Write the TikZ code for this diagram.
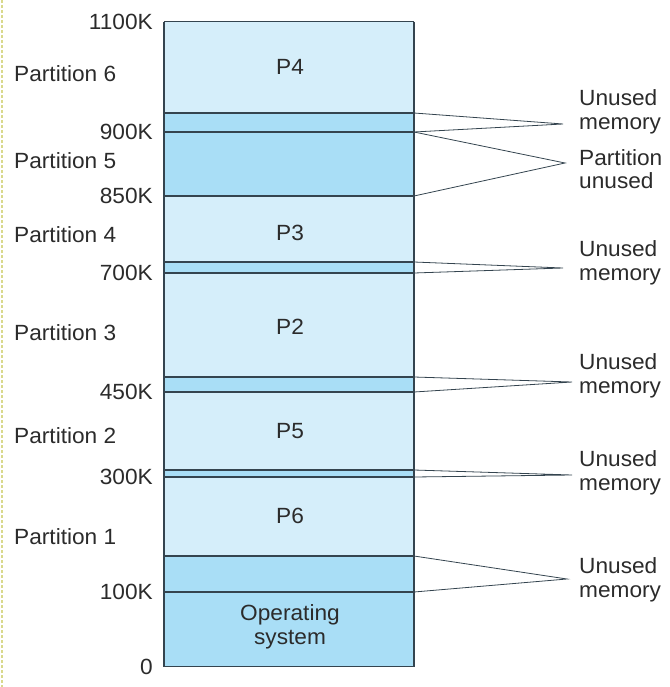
\documentclass[tikz,border=0pt]{standalone}
\usepackage{fontspec}
\setmainfont{Liberation Sans}[FakeStretch=1.03]
\usetikzlibrary{positioning}
\definecolor{freeblue}{HTML}{A9DEF6}
\definecolor{usedblue}{HTML}{D5EEFA}
\definecolor{edgegray}{HTML}{34444F}
\definecolor{textgray}{HTML}{2B2B2B}
\definecolor{dotyellow}{HTML}{D9D98C}

\begin{document}
\begin{tikzpicture}[x=1pt, y=-1pt, font=\fontsize{22}{23.5}\selectfont, text=textgray,
	used/.style={fill=usedblue}, free/.style={fill=freeblue},
	bound/.style={draw=edgegray, line width=1.2pt},
	val/.style={inner sep=0pt}, part/.style={inner sep=0pt, anchor=west},
	note/.style={inner sep=0pt, anchor=west, align=left},
	proc/.style={inner sep=0pt, align=center},
	lead/.style={draw=edgegray, line width=0.8pt, line join=miter}]
	\useasboundingbox (0,0) rectangle (669,687);
	\draw[dotyellow, line width=1.8pt, dash pattern=on 3pt off 2pt] (2,0) -- (2,687);
	% memory bands
	\fill[used] (164,21.7) rectangle (414,113);
	\fill[free] (164,113) rectangle (414,196);
	\fill[used] (164,196) rectangle (414,262);
	\fill[free] (164,262) rectangle (414,273);
	\fill[used] (164,273) rectangle (414,377);
	\fill[free] (164,377) rectangle (414,392);
	\fill[used] (164,392) rectangle (414,470);
	\fill[free] (164,470) rectangle (414,477);
	\fill[used] (164,477) rectangle (414,556);
	\fill[free] (164,556) rectangle (414,666.7);
	% boundaries
	\foreach \n/\y in {k1100/21.7, top6/113, k900/132, k850/196, top4/262, k700/273, top3/377, k450/392, top2/470, k300/477, top1/556, k100/592, k0/666.7} {
		\coordinate (L\n) at (164,\y);
		\coordinate (R\n) at (414,\y);
		\draw[bound] (L\n) -- (R\n);
	}
	\draw[bound] (Lk1100) -- (Lk0) (Rk1100) -- (Rk0);
	% addresses
	\node[val, left=11pt of Lk1100] (v1100) {1100K};
	\node[val, left=11pt of Lk900] (v900) {900K};
	\node[val, left=11pt of Lk850] (v850) {850K};
	\node[val, left=11pt of Lk700] (v700) {700K};
	\node[val, left=11pt of Lk450] (v450) {450K};
	\node[val, left=11pt of Lk300] (v300) {300K};
	\node[val, left=11pt of Lk100] (v100) {100K};
	\node[val, left=11pt of Lk0] (v0) {0};
	% partitions
	\node[part] (part6) at (14,74) {Partition 6};
	\node[part] (part5) at (14,161) {Partition 5};
	\node[part] (part4) at (14,235) {Partition 4};
	\node[part] (part3) at (14,333) {Partition 3};
	\node[part] (part2) at (14,436) {Partition 2};
	\node[part] (part1) at (14,537) {Partition 1};
	% processes
	\node[proc] (P4) at (290,67) {P4};
	\node[proc] (P3) at (290,233) {P3};
	\node[proc] (P2) at (290,327) {P2};
	\node[proc] (P5) at (290,431) {P5};
	\node[proc] (P6) at (290,516) {P6};
	\node[proc] (os) at (290,627) {Operating\\system};
	% notes
	\coordinate (a1) at (563,124);
	\coordinate (a2) at (565,163);
	\coordinate (a3) at (563,268);
	\coordinate (a4) at (572,382);
	\coordinate (a5) at (572,475);
	\coordinate (a6) at (567,579);
	\node[note] (n1) at (579,112) {Unused\\memory};
	\node[note] (n2) at (579,169) {Partition\\unused};
	\node[note] (n3) at (579,263) {Unused\\memory};
	\node[note] (n4) at (579,376) {Unused\\memory};
	\node[note] (n5) at (579,473) {Unused\\memory};
	\node[note] (n6) at (579,580) {Unused\\memory};
	\draw[lead] (Rtop6) -- (a1) -- (Rk900);
	\draw[lead] (Rk900) -- (a2) -- (Rk850);
	\draw[lead] (Rtop4) -- (a3) -- (Rk700);
	\draw[lead] (Rtop3) -- (a4) -- (Rk450);
	\draw[lead] (Rtop2) -- (a5) -- (Rk300);
	\draw[lead] (Rtop1) -- (a6) -- (Rk100);
\end{tikzpicture}
\end{document}
